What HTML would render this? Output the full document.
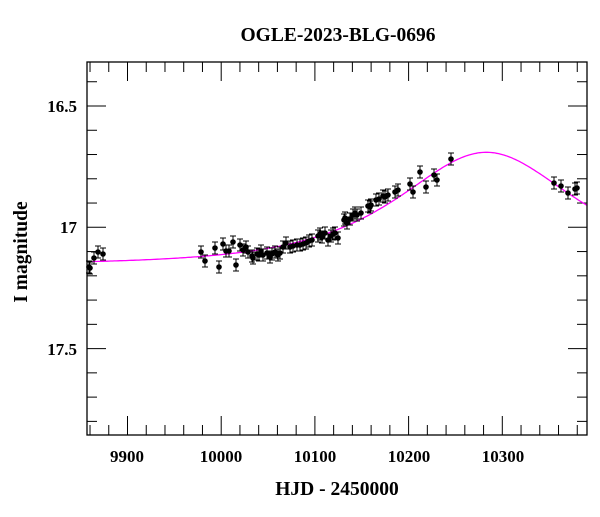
<!DOCTYPE html>
<html><head><meta charset="utf-8"><style>
body{margin:0;background:#fff}
svg text{font-family:"Liberation Serif",serif;fill:#000}
</style></head><body>
<svg id="s" width="600" height="512" xmlns="http://www.w3.org/2000/svg">
<text x="338" y="41" font-size="19.5" text-anchor="middle" font-weight="bold">OGLE-2023-BLG-0696</text>
<text x="337" y="495" font-size="19.5" text-anchor="middle" font-weight="bold">HJD - 2450000</text>
<text transform="translate(27,252) rotate(-90)" font-size="19.5" text-anchor="middle" font-weight="bold">I magnitude</text>
<g font-size="17" font-weight="bold" text-anchor="end">
<text x="77" y="112">16.5</text><text x="77" y="233">17</text><text x="77" y="355">17.5</text>
</g>
<g font-size="17" font-weight="bold" text-anchor="middle">
<text x="127" y="462">9900</text><text x="221" y="462">10000</text><text x="315" y="462">10100</text><text x="409" y="462">10200</text><text x="503" y="462">10300</text>
</g>
<g id="ticks" stroke="#000" stroke-width="1"></g>
<path id="curve" fill="none" stroke="#ff00ff" stroke-width="1.3"/>
<g id="pts" stroke="#000" fill="#000"></g>
<rect x="87" y="62" width="500" height="373" fill="none" stroke="#000" stroke-width="1.3"/>
</svg>
<script>
var L=87,R=587,T=62,B=435;
function X(t){return 221.2+(t-10000)*0.937;}
function Y(m){return 227.3+(m-17)*242.6;}
var tk=document.getElementById('ticks'),h='';
for(var t=9860;t<=10380;t+=20){var x=X(t),len=(t%100==0)?19:10;
h+='<line x1="'+x+'" y1="'+B+'" x2="'+x+'" y2="'+(B-len)+'"/><line x1="'+x+'" y1="'+T+'" x2="'+x+'" y2="'+(T+len)+'"/>';}
for(var i=4;i<=18;i++){var m=16+i*0.1,y=Y(m);if(y<T||y>B)continue;var len=(i%5==0)?19:10;
h+='<line x1="'+L+'" y1="'+y+'" x2="'+(L+len)+'" y2="'+y+'"/><line x1="'+R+'" y1="'+y+'" x2="'+(R-len)+'" y2="'+y+'"/>';}
tk.innerHTML=h;
var d='';
for(var t=9858;t<=10390;t+=2){var u0=0.80,tE=130,t0=10283;var tau=(t-t0)/tE,u=Math.sqrt(u0*u0+tau*tau);
var A=(u*u+2)/(u*Math.sqrt(u*u+4));var m=17.154-2.5*Math.log10(A);
d+=(d?'L':'M')+X(t).toFixed(1)+' '+Y(m).toFixed(1);}
document.getElementById('curve').setAttribute('d',d);
var P=[[89,267],[90,268],[94,258],[98,252],[103,254],[201,252],[205,261],[215,248],[219,267],[223,244],[226,251],[229,251],[233,242],[236,265],[240,245],[243,250],[246,247],[248,252],[252,256],[253,258],[257,254],[259,255],[261,251],[263,255],[267,253],[270,257],[272,254],[275,252],[278,255],[280,253],[283,247],[286,243],[290,247],[293,246],[297,245],[300,245],[303,244],[306,243],[309,241],[312,240],[318,236],[320,234],[322,237],[325,233],[328,240],[331,236],[333,234],[335,233],[338,238],[344,220],[345,218],[347,223],[350,219],[353,215],[355,213],[357,215],[361,213],[368,206],[370,207],[371,205],[376,200],[379,199],[383,196],[385,197],[388,195],[395,192],[398,190],[410,184],[413,192],[420,172],[426,187],[434,175],[437,180],[451,159],[554,183],[561,186],[568,193],[575,189],[577,188]];
var g='';P.forEach(function(p){var x=p[0],y=p[1];
g+='<line x1="'+x+'" y1="'+(y-6)+'" x2="'+x+'" y2="'+(y+6)+'"/><line x1="'+(x-3)+'" y1="'+(y-6)+'" x2="'+(x+3)+'" y2="'+(y-6)+'"/><line x1="'+(x-3)+'" y1="'+(y+6)+'" x2="'+(x+3)+'" y2="'+(y+6)+'"/><circle cx="'+x+'" cy="'+y+'" r="2.8" stroke="none"/>';});
document.getElementById('pts').innerHTML=g;
</script>
</body></html>
